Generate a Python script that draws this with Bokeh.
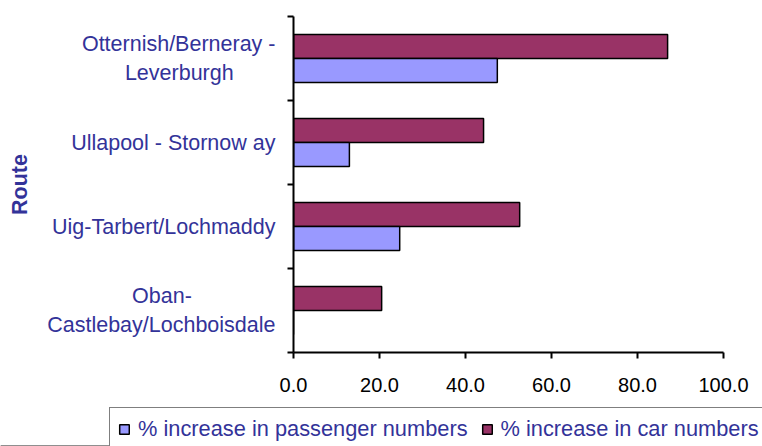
from bokeh.plotting import figure
from bokeh.models import (FactorRange, Range1d, LinearAxis, CategoricalAxis, FixedTicker,
                          NumeralTickFormatter, Legend, LegendItem, ColumnDataSource,
                          CustomJSTickFormatter)
from bokeh.transform import dodge
from bokeh.embed import file_html
from bokeh.resources import INLINE

NB = "\u00a0"
# ---- data (top to bottom as in the chart) ----
routes = ["Otternish/Berneray -\nLeverburgh" + NB * 7, "Ullapool - Stornow ay",
          "Uig-Tarbert/Lochmaddy", "Oban-" + NB * 14 + "\nCastlebay/Lochboisdale"]
passenger_pct = [47.4, 13.0, 24.7, 0.0]
car_pct = [87.0, 44.2, 52.6, 20.5]
x_ticks = [0, 20, 40, 60, 80, 100]
series_names = ["% increase in passenger numbers", "% increase in car numbers"]

FONT = "Liberation Sans"
TXT = "#333399"
PASS_C = "#9999FF"
CAR_C = "#993366"

src = ColumnDataSource(dict(route=routes, passenger=passenger_pct, car=car_pct))

p = figure(width=762, height=400, output_backend="svg", toolbar_location=None,
           y_range=FactorRange(factors=list(reversed(routes))),
           x_range=Range1d(0, 100), y_axis_location=None,
           min_border_left=293, min_border_right=39, min_border_top=16, min_border_bottom=48)
p.outline_line_color = None
p.xgrid.grid_line_color = None
p.ygrid.grid_line_color = None

bw = 1 / 3.5
r_car = p.hbar(y=dodge("route", bw / 2, range=p.y_range), right="car", left=0, height=bw,
               source=src, fill_color=CAR_C, line_color="black", line_width=1.5)
r_pass = p.hbar(y=dodge("route", -bw / 2, range=p.y_range), right="passenger", left=0, height=bw,
                source=src, fill_color=PASS_C, line_color="black", line_width=1.5)

# x axis
xa = p.xaxis[0]
xa.ticker = FixedTicker(ticks=x_ticks)
xa.formatter = NumeralTickFormatter(format="0.0")
xa.axis_line_width = 2
xa.major_tick_line_width = 2
xa.major_tick_out = 6
xa.major_tick_in = 0
xa.minor_tick_line_color = None
xa.major_label_text_font = FONT
xa.major_label_text_font_size = "20px"
xa.major_label_text_color = "black"
xa.major_label_standoff = 19

# inner y axis: line + ticks at category boundaries (synthetic coordinates)
ya_ticks = LinearAxis(ticker=FixedTicker(ticks=list(range(len(routes) + 1))),
                      formatter=CustomJSTickFormatter(code="return ''"),
                      axis_line_width=2, major_tick_line_width=2, major_tick_out=6, major_tick_in=0,
                      minor_tick_line_color=None, major_label_standoff=0)
p.add_layout(ya_ticks, "left")

# outer y axis: category labels
ya_lab = CategoricalAxis(axis_line_color=None, major_tick_line_color=None, major_tick_out=0,
                         major_tick_in=0, major_label_standoff=12,
                         major_label_text_font=FONT, major_label_text_font_size="21.5px",
                         major_label_text_color=TXT, major_label_text_line_height=1.18,
                         axis_label="Route", axis_label_text_font=FONT,
                         axis_label_text_font_size="21.5px", axis_label_text_font_style="bold",
                         axis_label_text_color=TXT, axis_label_standoff=12)
p.add_layout(ya_lab, "left")

# legend strip below the chart (swatch renderers sit outside the strip's visible range)
lf = figure(width=762, height=46, output_backend="svg", toolbar_location=None,
            x_axis_location=None, y_axis_location=None, min_border=0,
            x_range=Range1d(0, 1), y_range=Range1d(0, 1))
lf.outline_line_color = None
lf.xgrid.grid_line_color = None
lf.ygrid.grid_line_color = None
swatch = ColumnDataSource(dict(y=[-5], left=[0], right=[1]))
lp = lf.hbar(y="y", left="left", right="right", height=0.1, source=swatch,
             fill_color=PASS_C, line_color="black", line_width=1.5)
lc = lf.hbar(y="y", left="left", right="right", height=0.1, source=swatch,
             fill_color=CAR_C, line_color="black", line_width=1.5)
legend = Legend(items=[LegendItem(label=series_names[0], renderers=[lp]),
                       LegendItem(label=series_names[1], renderers=[lc])],
                orientation="horizontal", location=(109, -5),
                label_text_font=FONT, label_text_font_size="21.8px", label_text_color=TXT,
                glyph_width=12, glyph_height=12, label_standoff=8, spacing=13,
                padding=8, margin=0, border_line_color="black", border_line_width=1.5,
                background_fill_color="white", background_fill_alpha=1)
lf.add_layout(legend, "center")

open("out.html", "w").write(file_html([p, lf], INLINE))
